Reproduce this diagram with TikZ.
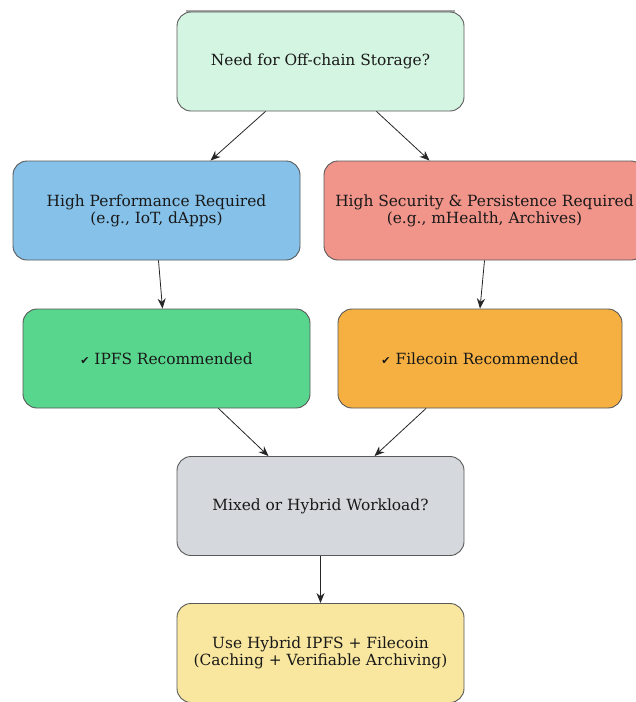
\documentclass[tikz,border=0pt]{standalone}
\usepackage{fontspec}
\setmainfont{DejaVu Serif}
\newfontfamily\symfont{DejaVu Sans}
\usetikzlibrary{arrows.meta}
\newcommand{\chk}{{\symfont\fontsize{11}{11}\selectfont\char"2714}}
\begin{document}
\begin{tikzpicture}[x=1pt,y=-1pt,
  box/.style={draw=black!65, line width=0.9pt, rounded corners=14pt,
    minimum height=99pt, minimum width=287pt, align=center,
    font=\fontsize{15.4}{17}\selectfont, text=black!90},
  link/.style={draw=black!85, line width=0.8pt, -{Stealth[length=10pt,width=8pt]}}]
\useasboundingbox (0,0) rectangle (636,702);
% slight grey edge above the first box
\draw[black!35, line width=2pt] (186,10.5) -- (455,10.5);
\node[box, fill={rgb,255:red,213;green,245;blue,227}] (need) at (320.5,61.5) {Need for Off-chain Storage?};
\node[box, fill={rgb,255:red,133;green,193;blue,233}] (perf) at (156.5,210.5) {High Performance Required\\(e.g., IoT, dApps)};
\node[box, minimum width=321pt, fill={rgb,255:red,241;green,148;blue,138}] (sec) at (484.5,210.5) {High Security \& Persistence Required\\(e.g., mHealth, Archives)};
\node[box, fill={rgb,255:red,88;green,214;blue,141}] (ipfs) at (166.5,358.5) {\chk\ IPFS Recommended};
\node[box, minimum width=284pt, fill={rgb,255:red,245;green,176;blue,65}] (fil) at (480,358.5) {\chk\ Filecoin Recommended};
\node[box, fill={rgb,255:red,213;green,216;blue,220}] (mix) at (320.5,506) {Mixed or Hybrid Workload?};
\node[box, fill={rgb,255:red,249;green,231;blue,159}] (hyb) at (320.5,653) {Use Hybrid IPFS + Filecoin\\(Caching + Verifiable Archiving)};
% connectors
\draw[link] ([xshift=-55pt]need.south) -- ([xshift=54pt]perf.north);
\draw[link] ([xshift=56pt]need.south) -- ([xshift=-55pt]sec.north);
\draw[link] ([xshift=2pt]perf.south) -- ([xshift=-4pt]ipfs.north);
\draw[link] ([xshift=0pt]sec.south) -- ([xshift=0pt]fil.north);
\draw[link] ([xshift=52pt]ipfs.south) -- ([xshift=-52pt]mix.north);
\draw[link] ([xshift=-54pt]fil.south) -- ([xshift=54pt]mix.north);
\draw[link] (mix.south) -- (hyb.north);
\end{tikzpicture}
\end{document}
